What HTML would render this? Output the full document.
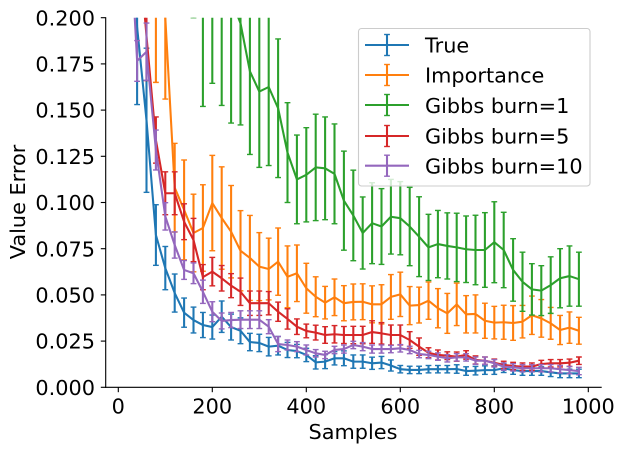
<!DOCTYPE html>
<html>
<head>
<meta charset="utf-8">
<style>
html,body{margin:0;padding:0;background:#fff;}
svg{display:block;}
text{font-family:"DejaVu Sans","Liberation Sans",sans-serif;font-size:20.83px;fill:#000;}
</style>
</head>
<body>
<svg id="chart" width="624" height="452" viewBox="0 0 624 452" xmlns="http://www.w3.org/2000/svg">
  <defs>
    <clipPath id="plot-clip"><rect x="105.7" y="17.7" width="496" height="369.6"/></clipPath>
  </defs>
  <g id="series-layer" clip-path="url(#plot-clip)"></g>
  <g id="axis-layer"></g>
  <text x="353" y="439" text-anchor="middle">Samples</text>
  <text transform="translate(25 202) rotate(-90)" text-anchor="middle">Value Error</text>
  <g>
    <rect x="358.5" y="28.5" width="231.5" height="157.5" rx="3" fill="#fff" fill-opacity="0.8" stroke="#ccc" stroke-width="1.1"/>
    <g id="legend-handles"></g>
    <text x="425" y="52.5">True</text>
    <text x="425" y="82.5">Importance</text>
    <text x="425" y="113">Gibbs burn=1</text>
    <text x="425" y="143.5">Gibbs burn=5</text>
    <text x="425" y="173.5">Gibbs burn=10</text>
  </g>
</svg>
<script>
const samples = [20,40,60,80,100,120,140,160,180,200,220,240,260,280,300,320,340,360,380,400,420,440,460,480,500,520,540,560,580,600,620,640,660,680,700,720,740,760,780,800,820,840,860,880,900,920,940,960,980];

const trueMean = [.31,.195,.1445,.0824,.0645,.051,.0404,.0364,.0337,.0326,.0382,.0326,.0306,.0245,.024,.022,.0225,.0202,.0196,.0175,.0135,.0139,.0157,.0157,.0139,.0139,.013,.0134,.0118,.0098,.0094,.0094,.0098,.0098,.0098,.0099,.0088,.009,.0093,.0093,.0103,.0093,.0088,.0088,.0088,.0081,.0075,.0075,.0075];
const trueErr = [.05,.042,.039,.0164,.0117,.0103,.0079,.007,.0068,.0065,.0085,.007,.007,.0047,.0047,.005,.005,.0041,.0036,.0036,.0036,.0038,.0036,.004,.0036,.0036,.0033,.0033,.003,.002,.002,.002,.002,.002,.002,.0023,.0023,.0023,.0023,.0023,.0023,.0023,.0023,.0023,.0023,.0023,.0023,.0023,.0023];

const importanceMean = [.42,.35,.28,.22,.2,.108,.096,.0835,.0862,.0997,.0916,.0842,.0739,.07,.0653,.064,.068,.0598,.0617,.0536,.049,.0458,.0487,.0455,.0462,.0463,.0449,.0449,.0489,.0503,.0442,.0445,.0469,.0428,.04,.0449,.0395,.0397,.036,.035,.0352,.0348,.0355,.039,.0373,.0346,.031,.0323,.0306];
const importanceErr = [.06,.06,.06,.055,.044,.024,.027,.021,.0234,.0258,.0277,.025,.0217,.023,.0184,.0167,.0182,.0167,.0153,.0135,.0108,.0088,.0099,.0095,.0097,.0097,.01,.0106,.0121,.012,.0103,.0097,.0101,.0106,.0108,.0115,.0101,.0103,.0095,.0088,.0092,.0094,.0088,.0104,.0102,.0086,.0079,.0085,.0073];

const gibbs1Mean = [.38,.36,.34,.33,.32,.31,.3,.27,.24,.24,.23,.21,.197,.171,.16,.1625,.151,.127,.1125,.115,.119,.1185,.1155,.101,.093,.0835,.0888,.087,.0923,.0915,.087,.0815,.0757,.0775,.0765,.0757,.0747,.0743,.0743,.0785,.0743,.0635,.0571,.053,.0523,.0553,.059,.0602,.0585];
const gibbs1Err = [.07,.07,.07,.07,.07,.07,.07,.07,.088,.0755,.0775,.067,.055,.045,.041,.0425,.0375,.027,.024,.0255,.0288,.0278,.027,.0268,.0245,.0195,.0219,.0205,.0202,.0198,.0212,.0216,.0179,.0182,.0179,.0185,.018,.0188,.0202,.0219,.0204,.0169,.016,.0139,.0135,.0153,.016,.0163,.0146];

const gibbs5Mean = [.32,.25,.19,.1338,.105,.105,.0896,.0797,.0596,.0626,.059,.055,.0517,.0455,.0455,.0455,.0409,.037,.0328,.0305,.0296,.0283,.0287,.0283,.0283,.0283,.0299,.0292,.0283,.0283,.0256,.022,.0187,.0175,.0171,.0166,.0175,.0148,.0144,.0133,.0121,.0115,.0112,.0112,.0126,.013,.013,.0133,.0144];
const gibbs5Err = [.04,.03,.024,.0125,.0116,.0116,.0097,.0117,.0068,.0077,.0069,.0065,.0074,.0066,.0066,.0063,.0052,.0055,.0042,.0037,.004,.0045,.0047,.0046,.0047,.0047,.0061,.0058,.0054,.0054,.0045,.0047,.0027,.0027,.0021,.0025,.0023,.0022,.002,.002,.002,.002,.002,.002,.002,.002,.002,.002,.002];

const gibbs10Mean = [.27,.1766,.1816,.1284,.0925,.077,.0635,.0617,.0517,.0409,.0359,.0364,.0366,.0366,.0366,.0328,.0234,.0229,.022,.0202,.0184,.0175,.0202,.0207,.0229,.022,.0207,.0207,.0207,.0211,.0202,.018,.0175,.0166,.0157,.0162,.0162,.0144,.0144,.013,.0112,.0108,.0103,.0103,.0103,.0103,.0098,.0093,.0088];
const gibbs10Err = [.03,.011,.0155,.0108,.0074,.0071,.0051,.0056,.0063,.0054,.0043,.0041,.0048,.0048,.0048,.0038,.0041,.0027,.0027,.0027,.002,.002,.002,.0022,.002,.0022,.0022,.0022,.002,.002,.002,.002,.002,.002,.002,.002,.002,.002,.002,.002,.002,.002,.002,.002,.002,.002,.002,.002,.002];

const xTicks = [0,200,400,600,800,1000];
const yTicks = [0,.025,.05,.075,.1,.125,.15,.175,.2];

const seriesKeys = ['true','importance','gibbs-burn-1','gibbs-burn-5','gibbs-burn-10'];
const seriesColors = ['#1f77b4','#ff7f0e','#2ca02c','#d62728','#9467bd'];
const seriesMeans = [trueMean,importanceMean,gibbs1Mean,gibbs5Mean,gibbs10Mean];
const seriesErrs = [trueErr,importanceErr,gibbs1Err,gibbs5Err,gibbs10Err];

function xAxis(v){ return 118.3 + 0.47 * v; }
function yAxis(v){ return 387.3 - 1848 * v; }

const NS = 'http://www.w3.org/2000/svg';
function mk(tag, parent){
  const el = document.createElementNS(NS, tag);
  parent.appendChild(el);
  return el;
}
function seg(parent, x1, y1, x2, y2, color, w){
  const l = mk('line', parent);
  l.setAttribute('x1', x1);
  l.setAttribute('y1', y1);
  l.setAttribute('x2', x2);
  l.setAttribute('y2', y2);
  l.setAttribute('stroke', color);
  l.setAttribute('stroke-width', w);
  return l;
}

const seriesLayer = document.getElementById('series-layer');
const CAP = 2.9, LW = 2.08, CAPW = 1.39;
seriesKeys.forEach(function(key, i){
  const color = seriesColors[i];
  const g = mk('g', seriesLayer);
  
  
  const line = mk('polyline', g);
  
  
  line.setAttribute('fill', 'none');
  line.setAttribute('stroke', color);
  line.setAttribute('stroke-width', LW);
  line.setAttribute('stroke-linejoin', 'round');
  line.setAttribute('points', samples.map(function(s, j){
    return xAxis(s) + ',' + yAxis(seriesMeans[i][j]);
  }).join(' '));
  samples.forEach(function(s, j){
    const m = seriesMeans[i][j], e = seriesErrs[i][j];
    const x = xAxis(s), yTop = yAxis(m + e), yBot = yAxis(m - e);
    const bar = mk('g', g);
    
    
    seg(bar, x, yTop, x, yBot, color, LW);
    seg(bar, x - CAP, yTop, x + CAP, yTop, color, CAPW);
    seg(bar, x - CAP, yBot, x + CAP, yBot, color, CAPW);
  });
});

const axisLayer = document.getElementById('axis-layer');
const leftSpine = seg(axisLayer, 105.7, 17.2, 105.7, 387.9, '#000', 1.11);


const bottomSpine = seg(axisLayer, 105.2, 387.3, 601.7, 387.3, '#000', 1.11);



xTicks.forEach(function(t){
  const x = xAxis(t);
  const tick = seg(axisLayer, x, 387.3, x, 392.2, '#000', 1.11);
  
  
  const label = mk('text', axisLayer);
  
  
  label.setAttribute('x', x);
  label.setAttribute('y', 413.5);
  label.setAttribute('text-anchor', 'middle');
  label.textContent = String(t);
});
yTicks.forEach(function(t){
  const y = yAxis(t);
  const tick = seg(axisLayer, 100.8, y, 105.7, y, '#000', 1.11);
  
  
  const label = mk('text', axisLayer);
  
  
  label.setAttribute('x', 95);
  label.setAttribute('y', y + 7.6);
  label.setAttribute('text-anchor', 'end');
  label.textContent = t.toFixed(3);
});

const legendHandles = document.getElementById('legend-handles');
const handleRows = [45, 75, 105, 136, 165.7];
seriesKeys.forEach(function(key, i){
  const g = mk('g', legendHandles);
  
  
  const c = seriesColors[i], y = handleRows[i];
  seg(g, 365, y, 409, y, c, LW);
  seg(g, 387, y - 10.5, 387, y + 10.5, c, LW);
  seg(g, 387 - CAP, y - 10.5, 387 + CAP, y - 10.5, c, CAPW);
  seg(g, 387 - CAP, y + 10.5, 387 + CAP, y + 10.5, c, CAPW);
});
</script>
</body>
</html>
